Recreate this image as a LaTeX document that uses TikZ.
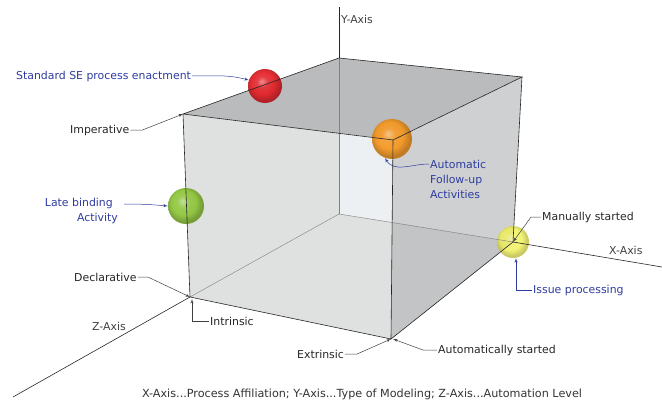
\documentclass[tikz,border=0pt]{standalone}
\usepackage{fontspec}
\setmainfont{DejaVu Sans}
\usetikzlibrary{arrows}

\definecolor{labelblue}{RGB}{46,60,160}
\definecolor{topgrey}{RGB}{185,187,188}
\definecolor{frontgrey}{RGB}{223,224,224}
\definecolor{backlight}{RGB}{237,240,243}
\definecolor{rightgrey}{RGB}{207,208,209}
\definecolor{rightdark}{RGB}{195,196,197}
\definecolor{redball}{RGB}{226,30,36}
\definecolor{orangeball}{RGB}{245,150,30}
\definecolor{greenball}{RGB}{140,196,55}
\definecolor{yellowball}{RGB}{240,240,80}
\colorlet{ballc}{redball}
\pgfdeclareradialshading[ballc]{soft ball}{\pgfqpoint{-5bp}{7bp}}{%
  color(0bp)=(ballc!55!white); color(8bp)=(ballc!92!white);
  color(17bp)=(ballc); color(25bp)=(ballc!78!black); color(50bp)=(ballc!78!black)}

\begin{document}
\begin{tikzpicture}[x=1pt,y=-1pt]
        \tikzset{edge/.style = {draw=black!85, line width=0.6pt}}
        \tikzset{inner/.style = {draw=black!50, line width=0.4pt}}
        \tikzset{sphere/.style = {circle, inner sep=0pt, /utils/exec={\colorlet{ballc}{#1}}, shade, shading=soft ball, opacity=0.93}}
        \tikzset{lbl/.style = {font=\fontsize{10.9}{15}\selectfont, text=black!85, inner sep=1pt}}
        \tikzset{blue lbl/.style = {lbl, text=labelblue}}
        \tikzset{lead/.style = {->, > = latex', draw=black!75, line width=0.5pt}}
        \tikzset{blue lead/.style = {lead, draw=labelblue}}
        \useasboundingbox (0,0) rectangle (662,404);
        % cube corners
        \coordinate (btl) at (339,58);
        \coordinate (btr) at (522,77);
        \coordinate (ftl) at (183,114);
        \coordinate (ftr) at (393,140);
        \coordinate (fbl) at (190,297);
        \coordinate (fbr) at (391,339);
        \coordinate (bbr) at (513,242);
        \coordinate (bbl) at (339,214);
        \coordinate (ycut) at (339,133);
        \coordinate (xcut) at (392,222);
        % axis ends
        \coordinate (yend) at (339,7);
        \coordinate (xend) at (662,267);
        \coordinate (zend) at (13,397);
        % faces
        \fill[topgrey] (btl) -- (btr) -- (ftr) -- (ftl) -- cycle;
        \fill[frontgrey] (ftl) -- (ftr) -- (fbr) -- (fbl) -- cycle;
        \fill[backlight] (ycut) -- (ftr) -- (xcut) -- (bbl) -- cycle;
        \fill[rightgrey] (ftr) -- (btr) -- (bbr) -- (fbr) -- cycle;
        \fill[rightdark] (xcut) -- (bbr) -- (fbr) -- cycle;
        % labels
        \node[lbl, anchor=west, text=black!75] (ylab) at (340,19) {Y-Axis};
        \node[lbl, anchor=west, text=black!75] (xlab) at (608,250) {X-Axis};
        \node[lbl, anchor=west, text=black!75] (zlab) at (91,326) {Z-Axis};
        \node[blue lbl, anchor=west] (std) at (15,76) {Standard SE process enactment};
        \node[lbl, anchor=west] (imp) at (69,130) {Imperative};
        \node[blue lbl, anchor=east, align=right] (late) at (119,211) {Late binding\hspace*{5pt}\\Activity};
        \node[blue lbl, anchor=west, align=left] (auto) at (429,179) {Automatic\\Follow-up\\Activities};
        \node[lbl, anchor=west] (man) at (541,217) {Manually started};
        \node[blue lbl, anchor=west] (issue) at (532,290) {Issue processing};
        \node[lbl, anchor=west] (decl) at (73,277) {Declarative};
        \node[lbl, anchor=west] (intr) at (209,321) {Intrinsic};
        \node[lbl, anchor=west] (extr) at (296,354) {Extrinsic};
        \node[lbl, anchor=west] (autost) at (437,350) {Automatically started};
        \node[lbl, font=\fontsize{11.2}{13}\selectfont, text=black!80] (cap) at (362,394) {X-Axis...Process Affiliation; Y-Axis...Type of Modeling; Z-Axis...Automation Level};
        % leader hidden behind the orange ball
        \draw[blue lead] ([yshift=15pt]auto.west) to[out=180, in=-60] (385,158);
        % balls
        \node[sphere=redball, minimum size=34] (red) at (265,86) {};
        \node[sphere=orangeball, minimum size=40] (orange) at (392,139) {};
        \node[sphere=greenball, minimum size=36] (green) at (186,206) {};
        \node[sphere=yellowball, minimum size=32, opacity=0.8] (yellow) at (513,242) {};
        % axes inside the cube
        \draw[inner] (btl) -- (bbl);
        \draw[inner] (bbl) -- (bbr);
        \draw[inner] (bbl) -- (fbl);
        % edges
        \draw[edge] (btl) -- (btr) -- (ftr) -- (ftl) -- cycle;
        \draw[edge] (ftl) -- (fbl) -- (fbr) -- (ftr);
        \draw[edge] (btr) -- (bbr) -- (fbr);
        \draw[edge] (btl) -- (yend);
        \draw[edge] (bbr) -- (xend);
        \draw[edge] (fbl) -- (zend);
        % leaders
        \draw[blue lead] (std.east) to[out=0, in=165] (red.160);
        \draw[blue lead] ([xshift=5pt,yshift=7pt]late.east) to[out=0, in=175] (green.west);
        \draw[lead] (imp.east) -- ++(12,0) -- (ftl);
        \draw[lead] (decl.east) -- ++(10,0) -- (fbl);
        \draw[lead] (intr.west) -| ([xshift=2pt,yshift=-2pt]fbl);
        \draw[lead] (extr.east) -- ++(12,0) -- (fbr);
        \draw[lead] (autost.west) -- ++(-14,0) -- ([xshift=2pt]fbr);
        \draw[lead] (man.west) -- ++(-10,0) -- (bbr);
        \draw[blue lead] (issue.west) -| ([xshift=3pt]yellow.south);
\end{tikzpicture}
\end{document}
